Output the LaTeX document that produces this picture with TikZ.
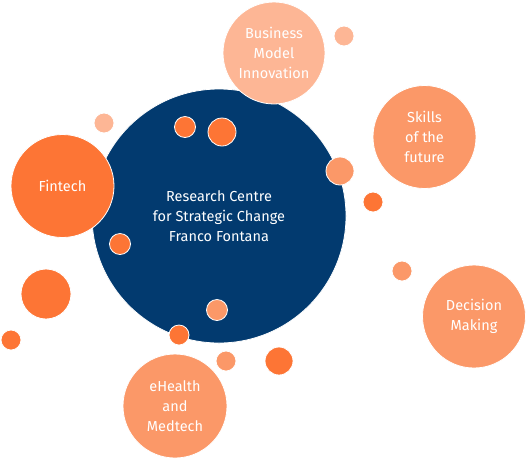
\documentclass[tikz,border=0pt]{standalone}
\usepackage{fontspec}
\setmainfont{Fira Sans}
\usepackage{tikz}
\definecolor{navy}{HTML}{023A6F}
\definecolor{deeporange}{HTML}{FD7535}
\definecolor{salmon}{HTML}{FB9868}
\definecolor{peach}{HTML}{FDB695}
\tikzset{
  bubble/.style={circle, fill=#1, draw=white, line width=0.8pt, inner sep=0pt,
    text=white, align=center, font=\fontsize{14.5}{20}\selectfont},
  dot/.style={circle, fill=#1, draw=white, line width=0.8pt, inner sep=0pt}
}

\begin{document}
\begin{tikzpicture}[x=1pt,y=-1pt]
          \useasboundingbox (0,0) rectangle (526,459);
          \node[bubble=navy, minimum size=254pt] (centre) at (219,216) {Research Centre\\for Strategic Change\\Franco Fontana};
          \node[bubble=peach, minimum size=102pt] (bmi) at (274,53) {Business\\Model\\Innovation};
          \node[bubble=salmon, minimum size=103pt] (skills) at (424.5,137) {Skills\\of the\\future};
          \node[bubble=deeporange, minimum size=103pt] (fintech) at (62.5,186) {Fintech};
          \node[bubble=salmon, minimum size=103pt] (decision) at (474,316.5) {Decision\\Making};
          \node[bubble=salmon, minimum size=104pt] (ehealth) at (175,406) {eHealth\\and\\Medtech};
          % small bubbles
          \node[dot=peach, minimum size=20pt] (p1) at (344,36) {};
          \node[dot=peach, minimum size=20pt] (p2) at (104,123) {};
          \node[dot=deeporange, minimum size=21pt] (o1) at (185,127) {};
          \node[dot=deeporange, minimum size=28pt] (o2) at (222,132) {};
          \node[dot=salmon, minimum size=28pt] (s1) at (340,171) {};
          \node[dot=deeporange, minimum size=20pt] (o3) at (373,202) {};
          \node[dot=deeporange, minimum size=21pt] (o4) at (120,244) {};
          \node[dot=deeporange, minimum size=50pt] (o5) at (46,294) {};
          \node[dot=deeporange, minimum size=20pt] (o6) at (11,340) {};
          \node[dot=salmon, minimum size=21pt] (s2) at (217,310) {};
          \node[dot=deeporange, minimum size=20pt] (o7) at (179,335) {};
          \node[dot=salmon, minimum size=20pt] (s3) at (226,361) {};
          \node[dot=deeporange, minimum size=28pt] (o8) at (279,361) {};
          \node[dot=salmon, minimum size=20pt] (s4) at (402,271) {};
        \end{tikzpicture}
\end{document}
